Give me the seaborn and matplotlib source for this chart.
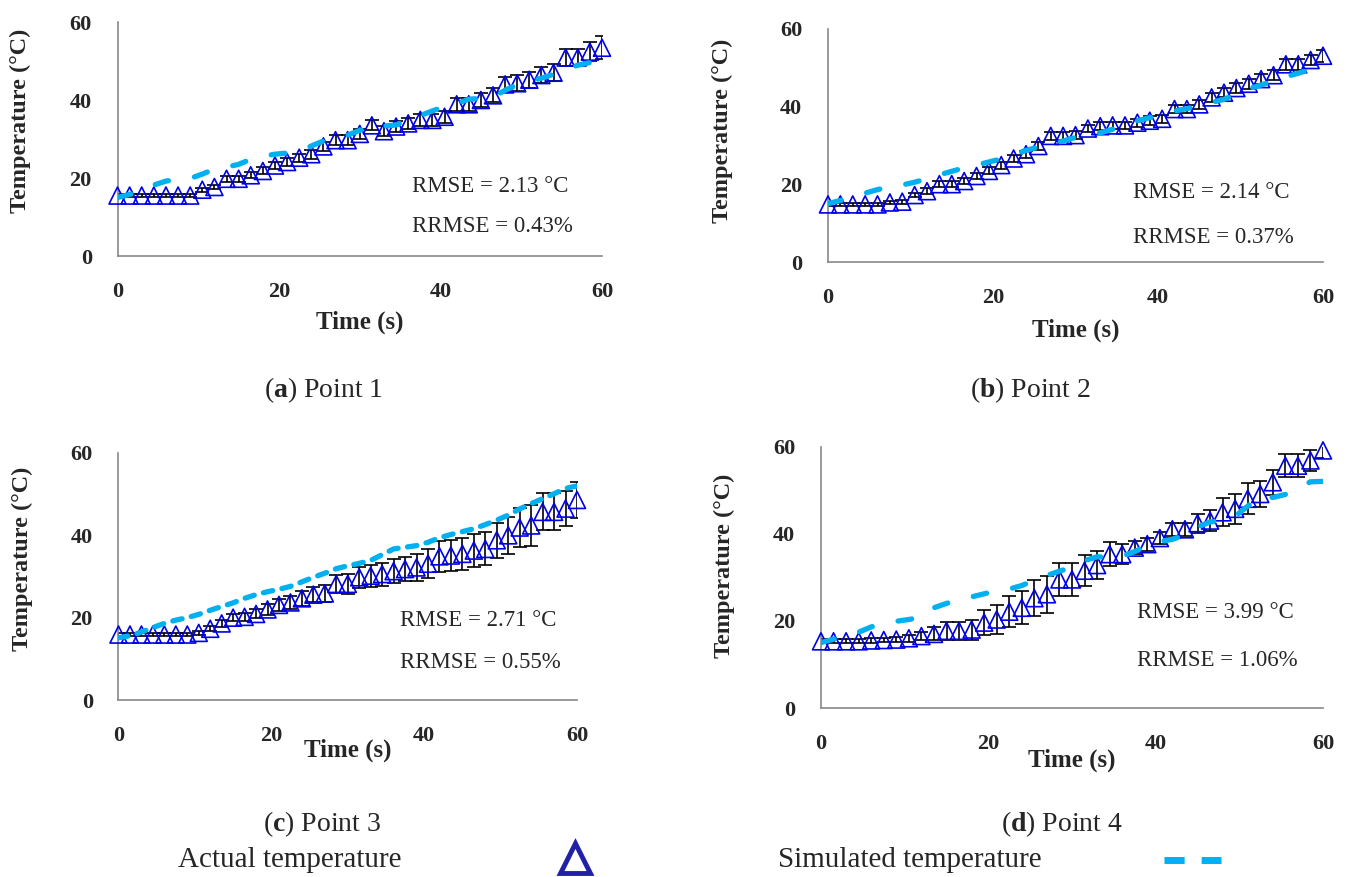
import numpy as np
import matplotlib.pyplot as plt
import seaborn as sns
from matplotlib.lines import Line2D

sns.set_style('white')
plt.rcParams['font.family'] = ['Liberation Serif', 'DejaVu Serif']
plt.rcParams['mathtext.fontset'] = 'custom'
plt.rcParams['mathtext.rm'] = 'Liberation Serif'
plt.rcParams['mathtext.bf'] = 'Liberation Serif:bold'

# readings every 1.5 s
time_s = np.arange(0, 60.1, 1.5)

# point 1
actual_1 = [15.5, 15.5, 15.5, 15.5, 15.5, 15.5, 15.5, 17.0, 17.7, 19.8, 19.8, 20.7, 21.8, 23.2,
            24.1, 25.2, 26.1, 28.1, 29.7, 29.7, 31.3, 33.5, 32.0, 33.2, 34.0, 34.9, 34.9, 35.7,
            38.9, 38.9, 40.0, 41.2, 44.0, 44.3, 45.2, 46.4, 47.0, 50.9, 50.9, 52.4, 53.4]
err_1 = [0.3, 0.3, 0.3, 0.3, 0.3, 0.3, 0.3, 0.5, 0.6, 0.8, 0.8, 0.8, 0.9, 0.9, 1.0, 1.0, 1.1,
         1.1, 1.2, 1.2, 1.3, 1.3, 1.3, 1.4, 1.5, 1.5, 1.5, 1.6, 1.6, 1.6, 1.7, 1.8, 1.9, 2.0,
         2.0, 2.1, 2.2, 2.3, 2.3, 2.5, 3.0]
sim_1 = [15.0, 15.8, 16.7, 18.2, 19.2, 19.7, 19.9, 21.0, 22.3, 22.8, 23.5, 24.8, 25.6, 26.1,
         26.4, 26.7, 28.2, 29.5, 30.1, 31.0, 32.2, 33.7, 33.3, 33.6, 35.0, 36.0, 37.2, 38.3,
         39.1, 40.2, 40.4, 40.7, 42.5, 43.9, 44.8, 45.6, 46.6, 47.9, 48.9, 49.6, 51.8]

# point 2
actual_2 = [14.8, 14.8, 14.8, 14.8, 14.8, 15.3, 15.5, 17.2, 18.2, 20.0, 20.0, 20.8, 22.1, 23.4,
            24.9, 26.6, 27.7, 29.8, 32.4, 32.4, 32.6, 34.3, 34.9, 35.1, 35.1, 35.8, 36.3, 36.8,
            39.3, 39.3, 40.5, 42.3, 43.5, 44.7, 45.8, 47.0, 48.0, 50.8, 50.8, 51.9, 53.0]
err_2 = [0.3, 0.3, 0.3, 0.3, 0.3, 0.4, 0.5, 0.6, 0.7, 0.8, 0.8, 0.8, 0.8, 0.9, 0.9, 0.9, 0.9,
         1.0, 1.0, 1.0, 1.0, 1.0, 1.0, 1.0, 1.0, 1.0, 1.1, 1.1, 1.1, 1.1, 1.2, 1.2, 1.2, 1.2,
         1.3, 1.3, 1.3, 1.4, 1.4, 1.4, 1.5]
sim_2 = [15.0, 15.8, 16.8, 17.7, 18.6, 19.3, 19.8, 20.5, 21.4, 22.4, 23.3, 24.2, 24.9, 25.7,
         26.5, 27.5, 28.7, 29.5, 30.3, 31.1, 32.0, 32.6, 33.2, 34.1, 35.5, 36.3, 37.1, 38.0,
         38.8, 39.4, 40.2, 41.0, 41.8, 43.2, 44.5, 45.5, 46.5, 47.6, 48.5, 49.5, 51.4]

# point 3
actual_3 = [15.9, 15.9, 15.9, 15.9, 15.9, 15.9, 15.9, 16.3, 17.3, 18.6, 20.0, 20.2, 20.9, 22.0,
            23.1, 23.7, 24.7, 25.6, 25.9, 28.2, 28.2, 29.8, 30.2, 30.6, 31.3, 31.8, 32.2, 33.1,
            34.9, 35.1, 35.5, 36.3, 36.7, 38.8, 40.0, 41.9, 42.4, 45.7, 45.7, 46.5, 48.6]
err_3 = [0.3, 0.3, 0.3, 0.3, 0.3, 0.3, 0.4, 0.5, 0.6, 0.8, 0.9, 1.0, 1.1, 1.3, 1.4, 1.6, 1.8,
         1.9, 2.0, 2.2, 2.4, 2.6, 2.7, 2.8, 2.9, 3.0, 3.2, 3.5, 3.7, 3.8, 3.9, 4.0, 4.0, 4.2,
         4.5, 4.8, 5.0, 4.5, 4.5, 4.2, 4.3]
sim_3 = [15.1, 15.6, 16.5, 17.6, 18.6, 19.4, 20.0, 20.8, 21.8, 22.7, 23.6, 24.7, 25.6, 26.3,
         26.9, 27.6, 28.7, 29.8, 30.8, 31.9, 32.6, 33.2, 33.9, 35.3, 36.7, 37.1, 37.5, 38.3,
         39.4, 40.2, 40.9, 41.6, 42.6, 43.7, 44.9, 46.4, 47.7, 48.9, 50.1, 51.4, 52.0]

# point 4
actual_4 = [15.3, 15.3, 15.3, 15.3, 15.5, 15.6, 15.7, 16.0, 16.5, 17.0, 17.7, 17.7, 18.0, 19.6,
            20.3, 22.1, 23.0, 25.2, 26.1, 29.5, 29.5, 31.5, 32.8, 35.3, 35.3, 36.8, 37.6, 39.0,
            41.0, 41.0, 42.4, 43.0, 44.9, 45.7, 48.0, 49.1, 51.8, 55.6, 55.6, 56.8, 59.1]
err_4 = [0.5, 0.5, 0.5, 0.5, 0.5, 0.5, 0.6, 0.8, 1.0, 1.5, 2.1, 2.1, 2.3, 2.9, 3.3, 3.6, 3.8,
         4.2, 4.2, 3.8, 3.8, 3.6, 3.3, 2.7, 2.3, 1.5, 1.5, 1.3, 1.5, 1.5, 2.2, 2.5, 3.2, 3.5,
         3.6, 3.0, 2.9, 2.6, 2.6, 2.5, 1.7]
sim_4 = [15.0, 15.8, 16.5, 17.4, 18.6, 19.4, 19.9, 20.3, 20.9, 23.0, 24.0, 24.8, 25.5, 26.2,
         26.9, 27.3, 28.1, 29.3, 30.4, 31.4, 32.3, 33.8, 34.7, 34.6, 34.8, 35.9, 37.3, 38.2,
         38.7, 39.7, 41.5, 42.7, 43.0, 44.0, 46.3, 48.7, 48.3, 49.0, 50.4, 51.9, 52.0]

panel_letters = ['a', 'b', 'c', 'd']
panel_names = ['Point 1', 'Point 2', 'Point 3', 'Point 4']
rmse = ['2.13', '2.14', '2.71', '3.99']
rrmse = ['0.43', '0.37', '0.55', '1.06']
actual = [actual_1, actual_2, actual_3, actual_4]
errors = [err_1, err_2, err_3, err_4]
simulated = [sim_1, sim_2, sim_3, sim_4]
ticks = [0, 20, 40, 60]

W, H = 1351, 877
fig = plt.figure(figsize=(W / 100, H / 100), dpi=100)

# layout in pixels: axes box (left, top, right, bottom), ylabel x/y, xlabel y, caption x/y, stats x/y
boxes = [(117.5, 22, 602, 256), (828, 28.5, 1323, 262), (118.5, 453, 577, 700), (821, 446.5, 1323, 708)]
ylab_pos = [(20, 121), (722, 131), (22, 559), (724, 566)]
xlab_y = [322, 330, 750, 760]
cap_pos = [(324, 390), (1030, 390), (322, 824), (1062, 824)]
stat_pos = [(412, 186, 227), (1133, 193, 238), (400, 621, 663), (1137, 613, 660)]
dash_style = [(2.6, 5.0), (2.6, 5.0), (1.8, 1.8), (2.6, 5.0)]

grey = '#898989'
for i in range(4):
    l, t, r, b = boxes[i]
    ax = fig.add_axes([l / W, 1 - b / H, (r - l) / W, (b - t) / H])
    ax.errorbar(time_s, actual[i], yerr=errors[i], fmt='none', ecolor='black',
                elinewidth=1.2, capsize=4.8, capthick=1.2, zorder=2)
    sns.scatterplot(x=time_s, y=actual[i], marker='^', s=150, color='#0000E8',
                    linewidth=1.2, ax=ax, zorder=3, clip_on=False)
    pts = ax.collections[-1]
    pts.set_facecolor('none')
    pts.set_edgecolor('#0000E8')
    sns.lineplot(x=time_s, y=simulated[i], ax=ax, color='#00B0F0', lw=3.8,
                 linestyle=(0, dash_style[i]), dash_capstyle='round', zorder=4)
    ax.set_xlim(0, 60)
    ax.set_ylim(0, 60)
    ax.set_xticks(ticks)
    ax.set_yticks(ticks)
    ax.set_xlabel('')
    ax.set_ylabel('')
    sns.despine(ax=ax)
    for side in ['left', 'bottom']:
        ax.spines[side].set_color(grey)
        ax.spines[side].set_linewidth(1.2)
    ax.tick_params(direction='out', length=6.5, width=1.1, color=grey,
                   labelsize=16, pad=12)
    for lab in ax.get_xticklabels() + ax.get_yticklabels():
        lab.set_fontweight('bold')

    fig.text(ylab_pos[i][0] / W, 1 - ylab_pos[i][1] / H, 'Temperature (°C)', rotation=90,
             ha='center', va='center', fontsize=17.5, fontweight='bold')
    fig.text(((l + r) / 2) / W, 1 - xlab_y[i] / H, 'Time (s)',
             ha='center', va='center', fontsize=18, fontweight='bold')
    fig.text(cap_pos[i][0] / W, 1 - cap_pos[i][1] / H,
             r'($\mathbf{%s}$) %s' % (panel_letters[i], panel_names[i]),
             ha='center', va='center', fontsize=20)
    sx, sy1, sy2 = stat_pos[i]
    fig.text(sx / W, 1 - sy1 / H, 'RMSE = %s °C' % rmse[i], ha='left', va='center', fontsize=16.5)
    fig.text(sx / W, 1 - sy2 / H, 'RRMSE = %s%%' % rrmse[i], ha='left', va='center', fontsize=16.5)

# legend row
fig.text(178 / W, 1 - 860 / H, 'Actual temperature', ha='left', va='center', fontsize=21)
fig.text(778 / W, 1 - 860 / H, 'Simulated temperature', ha='left', va='center', fontsize=21)
fig.add_artist(Line2D([575 / W], [1 - 858 / H], marker='^', markersize=21, mfc='white',
                      mec='#2020A8', mew=3.5, transform=fig.transFigure))
fig.add_artist(Line2D([1164 / W, 1221 / W], [1 - 860 / H] * 2, lw=5, color='#00B0F0',
                      dashes=(2.9, 2.45), transform=fig.transFigure))

fig.savefig('out.png', dpi=100)
